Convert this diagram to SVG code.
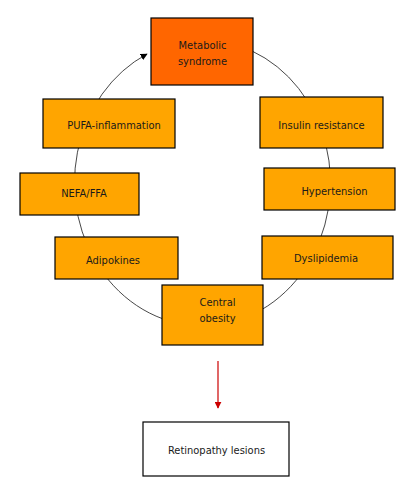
<svg xmlns="http://www.w3.org/2000/svg" width="417" height="492" viewBox="0 0 417 492">
<defs>
<style>
.box{fill:#FFA500;stroke:#000;stroke-width:1.2}
.main{fill:#FF6600;stroke:#000;stroke-width:1.2}
.out{fill:#fff;stroke:#000;stroke-width:1.2}
text{font-family:"DejaVu Sans Condensed","DejaVu Sans",sans-serif;font-size:11px;fill:#1a1a1a;text-anchor:middle}
.cyc{fill:none;stroke:#333;stroke-width:0.9}
</style>
<marker id="ah" viewBox="0 0 10 10" refX="9" refY="5" markerWidth="7" markerHeight="7" markerUnits="userSpaceOnUse" orient="auto-start-reverse">
<path d="M0,0 L10,5 L0,10 z" fill="#000"/>
</marker>
<marker id="ahr" viewBox="0 0 10 10" refX="9" refY="5" markerWidth="7" markerHeight="7" markerUnits="userSpaceOnUse" orient="auto">
<path d="M0,0 L10,5 L0,10 z" fill="#CC0000"/>
</marker>
</defs>
<rect width="417" height="492" fill="#fff"/>
<g id="connectors">
<path class="cyc" d="M147,54 A128,143 0 1 0 252,51" marker-start="url(#ah)"/>
<line x1="218" y1="361" x2="218" y2="408" stroke="#CC0000" stroke-width="1.2" marker-end="url(#ahr)"/>
</g>
<g id="metabolic-syndrome"><rect class="main" x="151" y="18" width="102" height="67"/><text x="202.5" y="49">Metabolic</text><text x="202.5" y="65">syndrome</text></g>
<g id="pufa-inflammation"><rect class="box" x="43" y="99" width="132" height="49"/><text x="114" y="129">PUFA-inflammation</text></g>
<g id="insulin-resistance"><rect class="box" x="260" y="97" width="123" height="51"/><text x="321.5" y="129">Insulin resistance</text></g>
<g id="nefa-ffa"><rect class="box" x="20" y="173" width="119" height="42"/><text x="84" y="197">NEFA/FFA</text></g>
<g id="hypertension"><rect class="box" x="264" y="168" width="131" height="42"/><text x="334.5" y="195">Hypertension</text></g>
<g id="adipokines"><rect class="box" x="55" y="237" width="123" height="42"/><text x="113" y="264">Adipokines</text></g>
<g id="dyslipidemia"><rect class="box" x="262" y="236" width="131" height="43"/><text x="326" y="262">Dyslipidemia</text></g>
<g id="central-obesity"><rect class="box" x="162" y="285" width="101" height="60"/><text x="217.5" y="306">Central</text><text x="217.5" y="322">obesity</text></g>
<g id="retinopathy-lesions"><rect class="out" x="143" y="422" width="146" height="54"/><text x="216.5" y="454">Retinopathy lesions</text></g>
</svg>
